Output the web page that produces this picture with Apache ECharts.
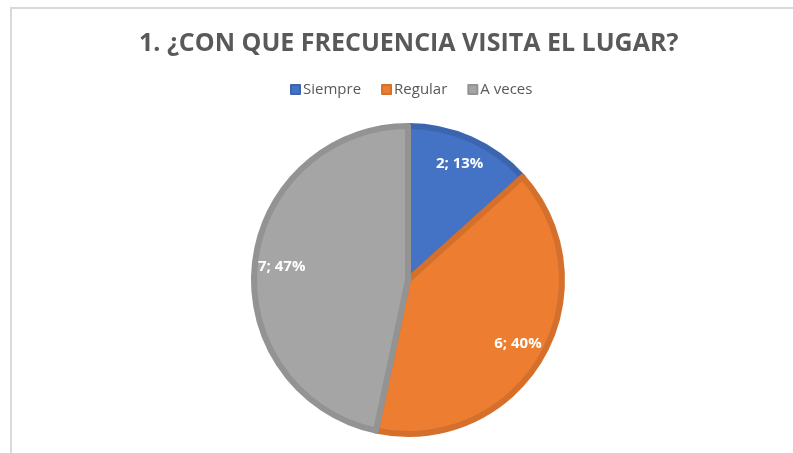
<!DOCTYPE html>
<html>
<head>
<meta charset="utf-8">
<script src="https://cdn.jsdelivr.net/npm/echarts@6/dist/echarts.min.js"></script>
<style>
  html, body { margin: 0; padding: 0; background: #fff; }
  #chart { width: 793px; height: 453px; }
</style>
</head>
<body>
<div id="chart"></div>
<script>
const titleText = "1. ¿CON QUE FRECUENCIA VISITA EL LUGAR?";
const categories = ["Siempre", "Regular", "A veces"];
const counts = [2, 6, 7];
const fillColors = ["#4472C4", "#ED7D31", "#A5A5A5"];
const edgeColors = ["#3C65AF", "#D4702C", "#939393"];

const chart = echarts.init(document.getElementById("chart"));

const pieData = categories.map((name, i) => ({
  name: name,
  value: counts[i],
  itemStyle: { color: fillColors[i], borderColor: edgeColors[i] }
}));

// invisible ring only used to push the labels out towards the rim
const labelData = categories.map((name, i) => ({
  name: name,
  value: counts[i],
  itemStyle: { color: "rgba(0,0,0,0)" }
}));

chart.setOption({
  animation: false,
  color: fillColors,
  title: {
    text: titleText,
    left: 134,
    top: 26,
    textStyle: {
      fontFamily: "Open Sans",
      fontWeight: "bold",
      fontSize: 25,
      color: "#595959"
    }
  },
  legend: {
    data: categories,
    top: 77,
    left: 285,
    itemWidth: 9,
    itemHeight: 9,
    itemGap: 20,
    icon: "rect",
    textStyle: {
      fontFamily: "Open Sans",
      fontSize: 15,
      color: "#595959",
      padding: [0, 0, 0, -2]
    }
  },
  graphic: [
    {
      type: "rect",
      shape: { x: 11, y: 8, width: 800, height: 500 },
      style: { fill: "none", stroke: "#d9d9d9", lineWidth: 2 },
      silent: true
    }
  ],
  series: [
    {
      type: "pie",
      center: [408, 280],
      radius: 154,
      startAngle: 90,
      clockwise: true,
      legendHoverLink: false,
      itemStyle: { borderWidth: 6 },
      label: { show: false },
      labelLine: { show: false },
      data: pieData
    },
    {
      type: "pie",
      center: [408, 280],
      radius: [94, 154],
      startAngle: 90,
      clockwise: true,
      silent: true,
      legendHoverLink: false,
      label: {
        show: true,
        position: "inside",
        color: "#fff",
        fontFamily: "Open Sans",
        fontWeight: "bold",
        fontSize: 15,
        formatter: (p) => p.value + "; " + Math.round(p.percent) + "%"
      },
      labelLine: { show: false },
      data: labelData
    }
  ]
});
</script>
</body>
</html>
